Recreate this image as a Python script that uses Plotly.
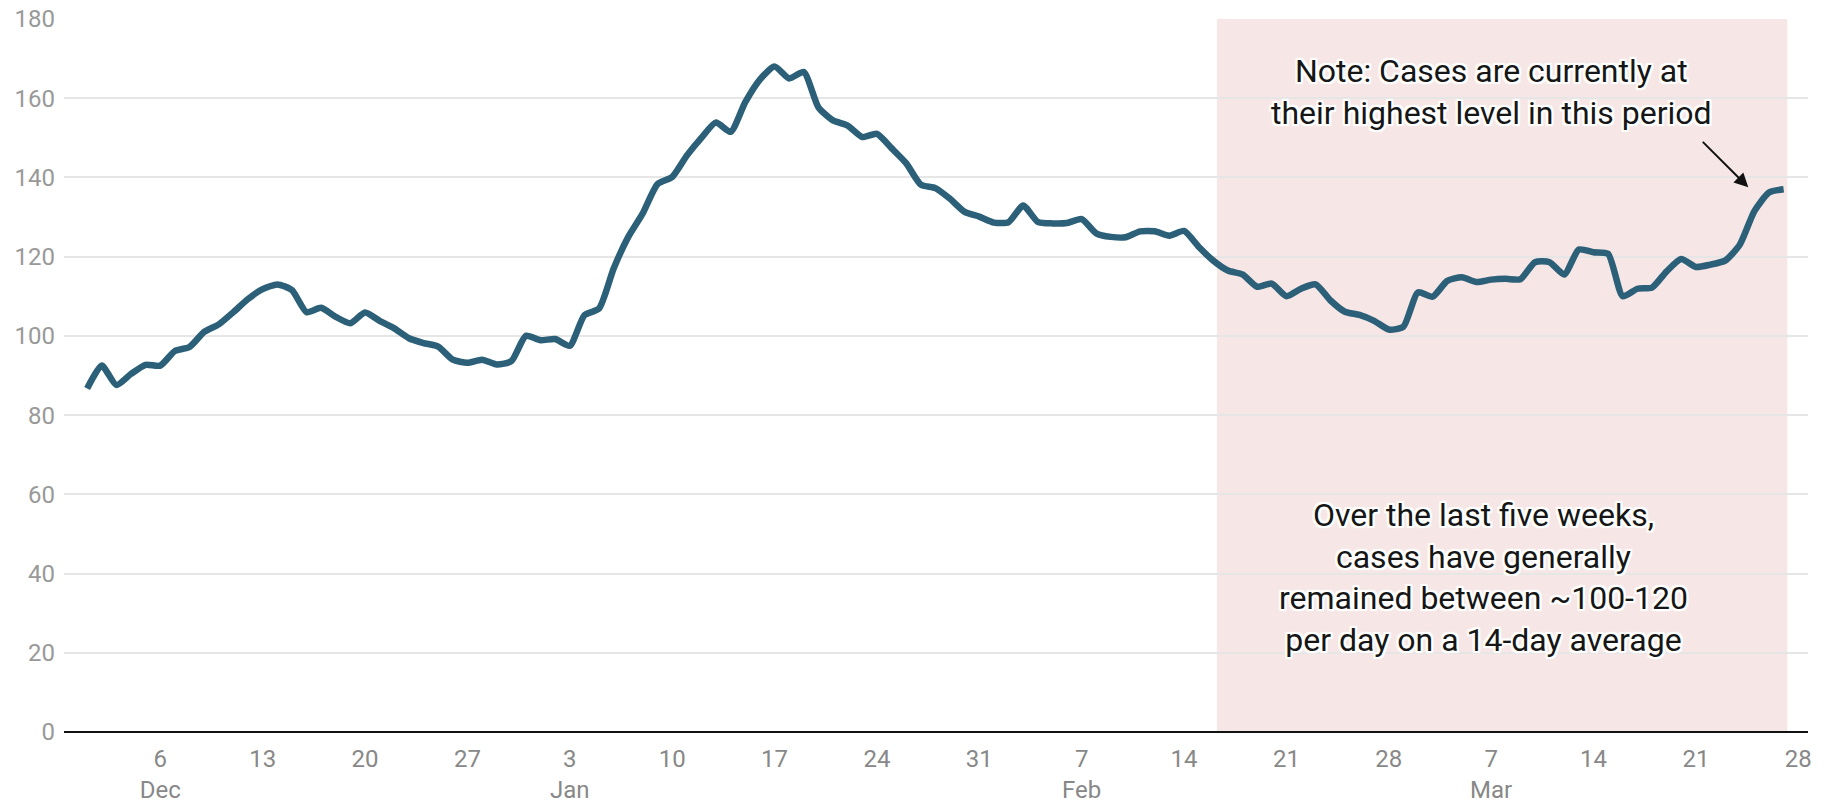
import pandas as pd
import plotly.graph_objects as go

start_date = "2020-12-01"
cases_14day_avg = [
    86.7, 92.5, 87.6, 90.4, 92.7, 92.5, 96.2, 97.2, 101.0, 102.9,
    106.0, 109.3, 111.8, 113.0, 111.6, 106.0, 107.1, 104.8, 103.2, 105.9,
    103.8, 101.9, 99.4, 98.2, 97.3, 94.0, 93.2, 94.0, 92.8, 93.6,
    100.0, 98.9, 99.2, 97.5, 105.2, 106.9, 117.0, 125.0, 131.0, 138.3,
    140.1, 145.5, 150.0, 153.9, 151.5, 159.0, 164.7, 168.0, 165.0, 166.6,
    157.7, 154.4, 153.1, 150.2, 151.0, 147.4, 143.6, 138.2, 137.3, 134.6,
    131.3, 130.1, 128.6, 128.7, 132.9, 128.8, 128.4, 128.5, 129.5, 125.9,
    125.0, 124.9, 126.4, 126.4, 125.3, 126.5, 122.5, 119.0, 116.5, 115.5,
    112.4, 113.2, 110.0, 111.9, 113.0, 109.0, 106.1, 105.3, 103.8, 101.6,
    102.3, 111.0, 109.9, 113.9, 114.8, 113.6, 114.2, 114.4, 114.3, 118.6,
    118.6, 115.5, 121.8, 121.1, 120.7, 110.0, 111.9, 112.2, 116.3, 119.4,
    117.4, 118.0, 119.0, 123.0, 131.5, 136.2, 137.0,
]
dates = pd.date_range(start_date, periods=len(cases_14day_avg), freq="D")

tick_dates = ["2020-12-06", "2020-12-13", "2020-12-20", "2020-12-27",
              "2021-01-03", "2021-01-10", "2021-01-17", "2021-01-24", "2021-01-31",
              "2021-02-07", "2021-02-14", "2021-02-21", "2021-02-28",
              "2021-03-07", "2021-03-14", "2021-03-21", "2021-03-28"]
tick_labels = ["6<br>Dec", "13", "20", "27",
               "3<br>Jan", "10", "17", "24", "31",
               "7<br>Feb", "14", "21", "28",
               "7<br>Mar", "14", "21", "28"]
y_ticks = [0, 20, 40, 60, 80, 100, 120, 140, 160, 180]

shade_start = "2021-02-16 06:00"
shade_end = "2021-03-27 06:00"

note_text = "Note: Cases are currently at<br>their highest level in this period"
summary_text = ("Over the last five weeks,<br>cases have generally<br>"
                "remained between ~100-120<br>per day on a 14-day average")

halo = ("2px 2px 1px white, -2px -2px 1px white, 2px -2px 1px white, -2px 2px 1px white, "
        "0px 2px 1px white, 0px -2px 1px white, 2px 0px 1px white, -2px 0px 1px white")

fig = go.Figure()
fig.add_trace(go.Scatter(
    x=dates, y=cases_14day_avg, mode="lines",
    line=dict(color="#2c5f78", width=6.5, shape="spline", smoothing=0.6),
    hoverinfo="x+y", showlegend=False,
))

fig.add_shape(type="rect", xref="x", yref="y", x0=shade_start, x1=shade_end,
              y0=0, y1=180, fillcolor="#f6e7e6", line=dict(width=0), layer="below")

fig.add_annotation(x="2021-03-07", y=161.6, xref="x", yref="y", text=note_text,
                   showarrow=False, align="center",
                   font=dict(family="Roboto", size=32, color="#161616", shadow=halo))
fig.add_annotation(x="2021-03-06 12:00", y=39, xref="x", yref="y", text=summary_text,
                   showarrow=False, align="center",
                   font=dict(family="Roboto", size=32, color="#161616", shadow=halo))
fig.add_annotation(x="2021-03-24 14:00", y=137.5, xref="x", yref="y", text="",
                   showarrow=True, ax=-47, ay=-47, arrowhead=2, arrowsize=1.4,
                   arrowwidth=2, arrowcolor="#111111")

fig.update_layout(
    width=1831, height=805,
    margin=dict(l=64, r=23, t=19, b=73, autoexpand=False),
    paper_bgcolor="white", plot_bgcolor="white",
    font=dict(family="Roboto", size=24, color="#8a8a8a"),
    xaxis=dict(
        range=["2020-11-29 10:00", "2021-03-28 16:00"],
        tickvals=tick_dates, ticktext=tick_labels,
        showgrid=False, zeroline=False, showline=False, ticks="",
        ticklabelstandoff=10, automargin=False,
        tickfont=dict(family="Roboto", size=24, color="#888888"),
    ),
    yaxis=dict(
        range=[0, 180], tickvals=y_ticks,
        showgrid=True, gridcolor="#e6e6e6", gridwidth=2,
        zeroline=True, zerolinecolor="#111111", zerolinewidth=2,
        showline=False, ticks="", ticklabelstandoff=8, automargin=False,
        tickfont=dict(family="Roboto", size=24, color="#999999"),
    ),
)

fig.write_html("out.html", config={"displayModeBar": False},
               post_script="document.body.style.margin='0';document.body.style.overflow='hidden';")
